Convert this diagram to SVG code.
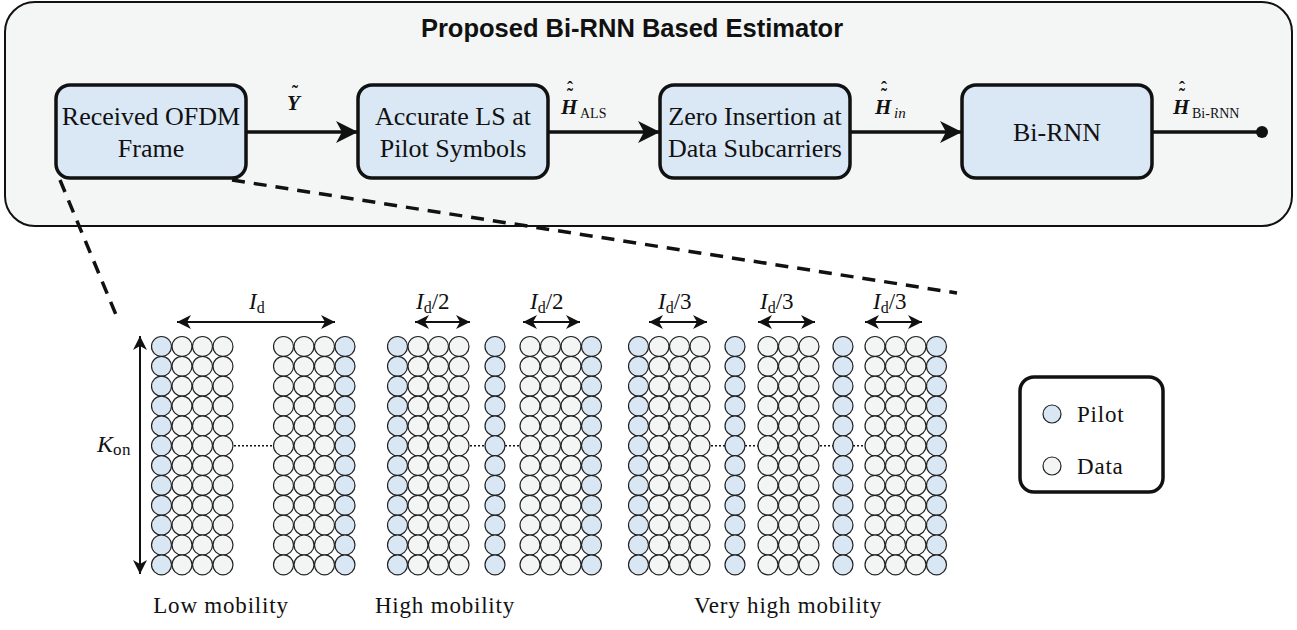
<svg xmlns="http://www.w3.org/2000/svg" width="1297" height="630" viewBox="0 0 1297 630">
<style>
.panel{fill:#f4f6f6;stroke:#111;stroke-width:2}
.box{fill:#dae8f5;stroke:#111;stroke-width:3.5}
.btxt{font-family:"Liberation Serif",serif;font-size:26px;fill:#111;text-anchor:middle}
.title{font-family:"Liberation Sans",Arial,sans-serif;font-weight:bold;font-size:25.5px;fill:#111;text-anchor:middle}
.conn{stroke:#111;stroke-width:3.5;fill:none}
.dash{stroke:#111;stroke-width:3.5;fill:none;stroke-dasharray:13 9}
.small{stroke:#111;stroke-width:2;fill:none}
.dot{stroke:#111;stroke-width:1.6;fill:none;stroke-dasharray:2 2}
.pilot{fill:#d9e7f5;stroke:#222;stroke-width:1.2}
.data{fill:#f3f5f5;stroke:#222;stroke-width:1.2}
.math{font-family:"Liberation Serif",serif;fill:#111}
.bi{font-weight:bold;font-style:italic;font-size:21px}
.acc{font-size:18px;font-weight:bold}
.lbl{font-family:"Liberation Serif",serif;font-size:23px;letter-spacing:0.8px;fill:#111}
.leg{fill:none;stroke:#111;stroke-width:3.5}
</style>
<defs>
<marker id="ah" markerUnits="userSpaceOnUse" markerWidth="26" markerHeight="22" refX="22" refY="11" orient="auto">
<path d="M22,11 L0,0 L6,11 L0,22 Z" fill="#111"/>
</marker>
<marker id="sh" markerUnits="userSpaceOnUse" markerWidth="16" markerHeight="14" refX="14" refY="7" orient="auto-start-reverse">
<path d="M14,7 L0,0 L4,7 L0,14 Z" fill="#111"/>
</marker>
<g id="pcol">
<circle class="pilot" cx="0" cy="0" r="10"/><circle class="pilot" cx="0" cy="19.85" r="10"/><circle class="pilot" cx="0" cy="39.7" r="10"/><circle class="pilot" cx="0" cy="59.55" r="10"/><circle class="pilot" cx="0" cy="79.4" r="10"/><circle class="pilot" cx="0" cy="99.25" r="10"/><circle class="pilot" cx="0" cy="119.1" r="10"/><circle class="pilot" cx="0" cy="138.95" r="10"/><circle class="pilot" cx="0" cy="158.8" r="10"/><circle class="pilot" cx="0" cy="178.65" r="10"/><circle class="pilot" cx="0" cy="198.5" r="10"/><circle class="pilot" cx="0" cy="218.35" r="10"/>
</g>
<g id="dcol">
<circle class="data" cx="0" cy="0" r="10"/><circle class="data" cx="0" cy="19.85" r="10"/><circle class="data" cx="0" cy="39.7" r="10"/><circle class="data" cx="0" cy="59.55" r="10"/><circle class="data" cx="0" cy="79.4" r="10"/><circle class="data" cx="0" cy="99.25" r="10"/><circle class="data" cx="0" cy="119.1" r="10"/><circle class="data" cx="0" cy="138.95" r="10"/><circle class="data" cx="0" cy="158.8" r="10"/><circle class="data" cx="0" cy="178.65" r="10"/><circle class="data" cx="0" cy="198.5" r="10"/><circle class="data" cx="0" cy="218.35" r="10"/>
</g>
</defs>

<g id="panel">
<rect class="panel" x="5" y="2" width="1287" height="224" rx="30"/>
<text class="title" x="632" y="37">Proposed Bi-RNN Based Estimator</text>
</g>

<g id="connectors">
<line class="conn" x1="246" y1="132" x2="358" y2="132" marker-end="url(#ah)"/>
<line class="conn" x1="548" y1="132" x2="660" y2="132" marker-end="url(#ah)"/>
<line class="conn" x1="850" y1="132" x2="962" y2="132" marker-end="url(#ah)"/>
<line class="conn" x1="1152" y1="132" x2="1260" y2="132"/>
<circle cx="1262" cy="132" r="6" fill="#111"/>
<line class="dash" x1="60" y1="180" x2="119" y2="322"/>
<line class="dash" x1="232" y1="180" x2="957" y2="293"/>
</g>

<g id="node-received">
<rect class="box" x="56" y="85" width="190" height="93" rx="14"/>
<text class="btxt" x="151" y="125">Received OFDM</text>
<text class="btxt" x="151" y="157">Frame</text>
</g>
<g id="node-als">
<rect class="box" x="358" y="85" width="190" height="93" rx="14"/>
<text class="btxt" x="453" y="125">Accurate LS at</text>
<text class="btxt" x="453" y="157">Pilot Symbols</text>
</g>
<g id="node-zero">
<rect class="box" x="660" y="85" width="190" height="93" rx="14"/>
<text class="btxt" x="755" y="125">Zero Insertion at</text>
<text class="btxt" x="755" y="157">Data Subcarriers</text>
</g>
<g id="node-birnn">
<rect class="box" x="962" y="85" width="190" height="93" rx="14"/>
<text class="btxt" x="1057" y="141">Bi-RNN</text>
</g>

<g id="edge-labels" class="math">
<text><tspan class="bi" x="287" y="110">Y</tspan><tspan class="acc" x="292" y="98">˜</tspan></text>
<text><tspan class="bi" x="561" y="114">H</tspan><tspan class="acc" x="567" y="101">˜</tspan><tspan class="acc" x="567" y="94">ˆ</tspan><tspan x="580" y="118" font-size="14">ALS</tspan></text>
<text><tspan class="bi" x="875" y="114">H</tspan><tspan class="acc" x="881" y="101">˜</tspan><tspan class="acc" x="881" y="94">ˆ</tspan><tspan x="894" y="118" font-size="15" font-style="italic">in</tspan></text>
<text><tspan class="bi" x="1173" y="114">H</tspan><tspan class="acc" x="1179" y="101">˜</tspan><tspan class="acc" x="1179" y="94">ˆ</tspan><tspan x="1192" y="118" font-size="14">Bi-RNN</tspan></text>
</g>

<g id="grid-low">
<use href="#pcol" x="161.5" y="346.5"/>
<use href="#dcol" x="182" y="346.5"/>
<use href="#dcol" x="202.5" y="346.5"/>
<use href="#dcol" x="223" y="346.5"/>
<use href="#dcol" x="283.5" y="346.5"/>
<use href="#dcol" x="304" y="346.5"/>
<use href="#dcol" x="324.5" y="346.5"/>
<use href="#pcol" x="345" y="346.5"/>
<line class="dot" x1="234" y1="445.75" x2="273" y2="445.75"/>
<line class="small" x1="177" y1="322" x2="335" y2="322" marker-start="url(#sh)" marker-end="url(#sh)"/>
<text class="math" x="249" y="309" font-size="23"><tspan font-style="italic">I</tspan><tspan font-size="16" dy="4">d</tspan></text>
<line class="small" x1="140" y1="336" x2="140" y2="574" marker-start="url(#sh)" marker-end="url(#sh)"/>
<text class="math" x="131" y="452" font-size="24" text-anchor="end"><tspan font-style="italic">K</tspan><tspan font-size="17" dy="3" letter-spacing="0.5">on</tspan></text>
<text class="lbl" x="221" y="613" text-anchor="middle">Low mobility</text>
</g>

<g id="grid-high">
<use href="#pcol" x="397.5" y="346.5"/>
<use href="#dcol" x="418" y="346.5"/>
<use href="#dcol" x="438.5" y="346.5"/>
<use href="#dcol" x="459" y="346.5"/>
<use href="#pcol" x="495" y="346.5"/>
<use href="#dcol" x="530" y="346.5"/>
<use href="#dcol" x="550.5" y="346.5"/>
<use href="#dcol" x="571" y="346.5"/>
<use href="#pcol" x="591.5" y="346.5"/>
<line class="dot" x1="470" y1="445.75" x2="485" y2="445.75"/>
<line class="dot" x1="505" y1="445.75" x2="520" y2="445.75"/>
<line class="small" x1="415" y1="322" x2="470" y2="322" marker-start="url(#sh)" marker-end="url(#sh)"/>
<line class="small" x1="523" y1="322" x2="580" y2="322" marker-start="url(#sh)" marker-end="url(#sh)"/>
<text class="math" x="416" y="309" font-size="23"><tspan font-style="italic">I</tspan><tspan font-size="16" dy="4">d</tspan><tspan dy="-4">/2</tspan></text>
<text class="math" x="530" y="309" font-size="23"><tspan font-style="italic">I</tspan><tspan font-size="16" dy="4">d</tspan><tspan dy="-4">/2</tspan></text>
<text class="lbl" x="445" y="613" text-anchor="middle">High mobility</text>
</g>

<g id="grid-veryhigh">
<use href="#pcol" x="638.5" y="346.5"/>
<use href="#dcol" x="659" y="346.5"/>
<use href="#dcol" x="679.5" y="346.5"/>
<use href="#dcol" x="700" y="346.5"/>
<use href="#pcol" x="735" y="346.5"/>
<use href="#dcol" x="768" y="346.5"/>
<use href="#dcol" x="788.5" y="346.5"/>
<use href="#dcol" x="809" y="346.5"/>
<use href="#pcol" x="843" y="346.5"/>
<use href="#dcol" x="875" y="346.5"/>
<use href="#dcol" x="895.5" y="346.5"/>
<use href="#dcol" x="916" y="346.5"/>
<use href="#pcol" x="936.5" y="346.5"/>
<line class="dot" x1="711" y1="445.75" x2="725" y2="445.75"/>
<line class="dot" x1="745" y1="445.75" x2="758" y2="445.75"/>
<line class="dot" x1="820" y1="445.75" x2="833" y2="445.75"/>
<line class="dot" x1="853" y1="445.75" x2="865" y2="445.75"/>
<line class="small" x1="649" y1="322" x2="707" y2="322" marker-start="url(#sh)" marker-end="url(#sh)"/>
<line class="small" x1="758" y1="322" x2="815" y2="322" marker-start="url(#sh)" marker-end="url(#sh)"/>
<line class="small" x1="865" y1="322" x2="922" y2="322" marker-start="url(#sh)" marker-end="url(#sh)"/>
<text class="math" x="658" y="309" font-size="23"><tspan font-style="italic">I</tspan><tspan font-size="16" dy="4">d</tspan><tspan dy="-4">/3</tspan></text>
<text class="math" x="760" y="309" font-size="23"><tspan font-style="italic">I</tspan><tspan font-size="16" dy="4">d</tspan><tspan dy="-4">/3</tspan></text>
<text class="math" x="873" y="309" font-size="23"><tspan font-style="italic">I</tspan><tspan font-size="16" dy="4">d</tspan><tspan dy="-4">/3</tspan></text>
<text class="lbl" x="788" y="613" text-anchor="middle">Very high mobility</text>
</g>

<g id="legend">
<rect class="leg" x="1020" y="377" width="143" height="115" rx="14"/>
<circle class="pilot" cx="1052" cy="414" r="9"/>
<text class="lbl" x="1077" y="422">Pilot</text>
<circle class="data" cx="1052" cy="466" r="9"/>
<text class="lbl" x="1077" y="474">Data</text>
</g>
</svg>
